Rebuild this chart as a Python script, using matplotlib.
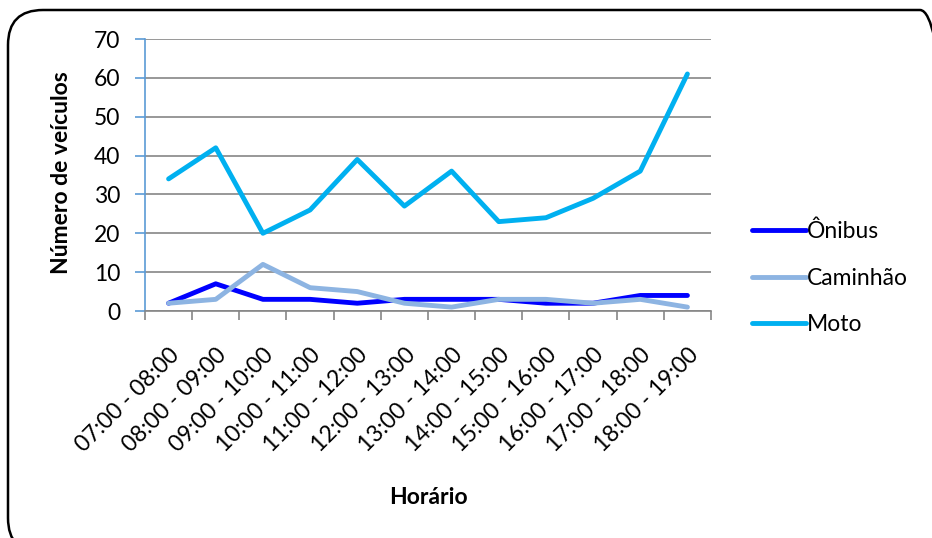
import matplotlib.pyplot as plt
from matplotlib.patches import FancyBboxPatch

plt.rcParams['font.family'] = ['Lato', 'DejaVu Sans']

horarios = ["07:00 - 08:00", "08:00 - 09:00", "09:00 - 10:00", "10:00 - 11:00",
            "11:00 - 12:00", "12:00 - 13:00", "13:00 - 14:00", "14:00 - 15:00",
            "15:00 - 16:00", "16:00 - 17:00", "17:00 - 18:00", "18:00 - 19:00"]
onibus = [2, 7, 3, 3, 2, 3, 3, 3, 2, 2, 4, 4]
caminhao = [2, 3, 12, 6, 5, 2, 1, 3, 3, 2, 3, 1]
moto = [34, 42, 20, 26, 39, 27, 36, 23, 24, 29, 36, 61]

fs = 16.5
fig = plt.figure(figsize=(9.32, 5.38), dpi=100)
ax = fig.add_axes([145 / 932, 1 - 311 / 538, 566 / 932, 272 / 538])

x = range(len(horarios))
ax.plot(x, onibus, color='#0000FF', lw=3.5, label='Ônibus', solid_capstyle='round')
ax.plot(x, caminhao, color='#8DB4E2', lw=3.5, label='Caminhão', solid_capstyle='round')
ax.plot(x, moto, color='#00B0F0', lw=3.5, label='Moto', solid_capstyle='round')

ax.set_xlim(-0.5, len(horarios) - 0.5)
ax.set_ylim(0, 70)
ax.set_yticks(range(0, 71, 10))
# category boundaries carry the tick marks, centres carry the labels
ax.set_xticks([i - 0.5 for i in range(len(horarios) + 1)])
ax.set_xticklabels([])
ax.set_xticks(list(x), minor=True)
ax.set_xticklabels(horarios, minor=True, rotation=45, ha='right', va='top',
                   rotation_mode='anchor', fontsize=fs)
ax.tick_params(axis='x', which='minor', length=0, pad=24)
ax.tick_params(axis='x', which='major', length=6.5, color='#868686', width=1.2)
ax.tick_params(axis='y', length=7, color='#5B9BD5', width=1.2, labelsize=fs, pad=11)
ax.yaxis.grid(True, color='#868686', lw=1.2)
ax.set_axisbelow(True)
for s in ['top', 'right']:
    ax.spines[s].set_visible(False)
ax.spines['left'].set_color('#5B9BD5')
ax.spines['left'].set_linewidth(1.2)
ax.spines['bottom'].set_color('#868686')
ax.spines['bottom'].set_linewidth(1.2)

fig.text(62 / 932, 1 - 173 / 538, 'Número de veículos', fontsize=fs,
         fontweight='bold', rotation=90, ha='center', va='center')
fig.text(428 / 932, 1 - 497 / 538, 'Horário', fontsize=fs, fontweight='bold',
         ha='center', va='center')

fig.legend(loc='center left', bbox_to_anchor=(752 / 932, 1 - 278 / 538),
           frameon=False, fontsize=fs, handlelength=2.35, handletextpad=0.05,
           labelspacing=1.12, borderpad=0, borderaxespad=0)

# rounded frame around the whole chart
border = FancyBboxPatch((0.08, -0.15), 9.47, 5.43,
                        boxstyle='round,pad=0,rounding_size=0.35',
                        transform=fig.dpi_scale_trans, fill=False, lw=1.8,
                        edgecolor='black')
fig.patches.append(border)

fig.savefig('out.png', dpi=100)
